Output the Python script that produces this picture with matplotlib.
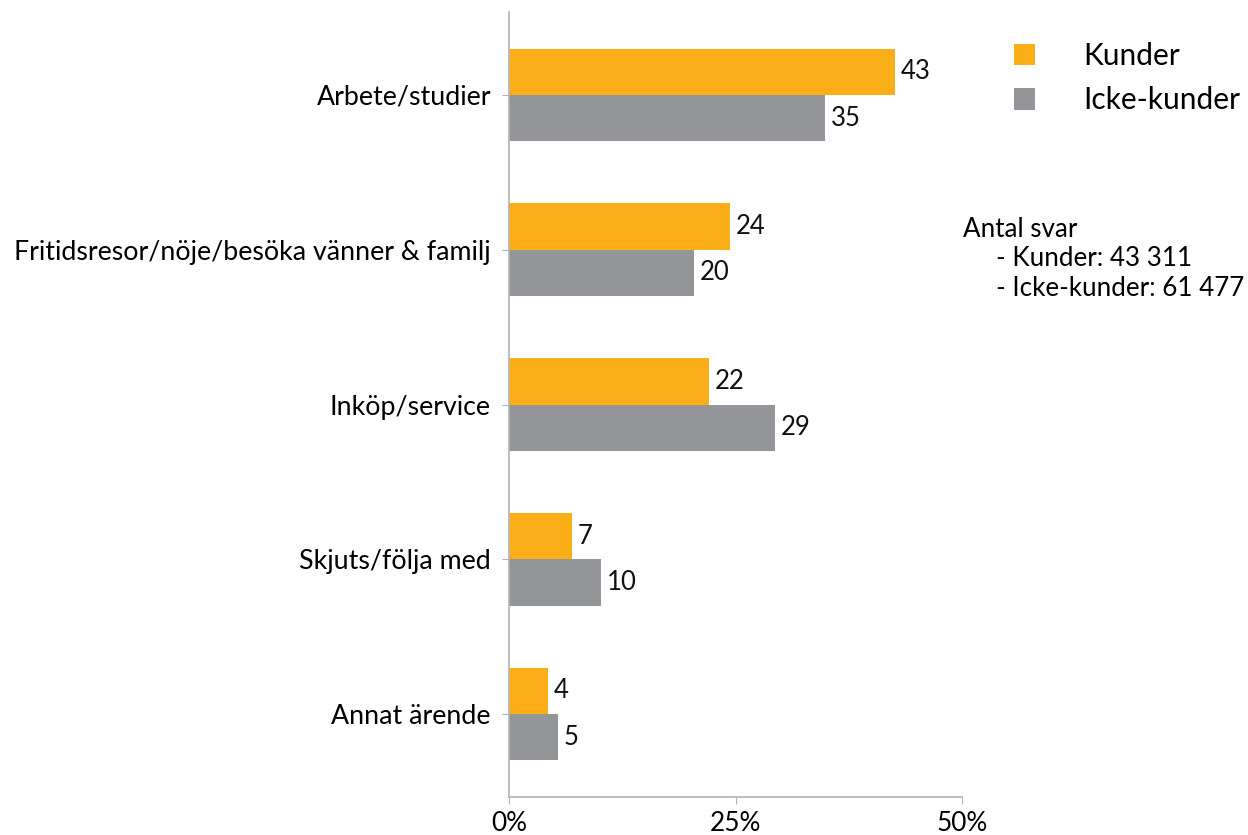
import numpy as np
import matplotlib.pyplot as plt
from matplotlib.ticker import FuncFormatter

plt.rcParams['font.family'] = ['Lato', 'DejaVu Sans']

kategorier = ['Arbete/studier', 'Fritidsresor/nöje/besöka vänner & familj',
              'Inköp/service', 'Skjuts/följa med', 'Annat ärende']
kunder = [42.6, 24.4, 22.1, 7.0, 4.3]
icke_kunder = [34.9, 20.4, 29.4, 10.2, 5.4]
serier = ['Kunder', 'Icke-kunder']

ORANGE = '#fbae17'
GRA = '#939598'
SPINE = '#b3b3b3'

fig = plt.figure(figsize=(12.48, 8.35), dpi=100)
ax = fig.add_axes([509 / 1248, 1 - 797 / 835, (962 - 509) / 1248, (797 - 12) / 835])

y = np.arange(len(kategorier))
h = 0.30
b1 = ax.barh(y - h / 2, kunder, height=h, color=ORANGE, label=serier[0])
b2 = ax.barh(y + h / 2, icke_kunder, height=h, color=GRA, label=serier[1])

for bars in (b1, b2):
    for rect in bars:
        v = rect.get_width()
        ax.text(v + 0.6, rect.get_y() + rect.get_height() / 2, f'{v:.0f}',
                va='center', ha='left', fontsize=18.5, color='#111111')

ax.set_xlim(0, 50)
ax.set_ylim(len(kategorier) - 0.464, -0.536)
ax.set_yticks(y)
ax.set_yticklabels(kategorier, fontsize=19.3)
ax.set_xticks([0, 25, 50])
ax.xaxis.set_major_formatter(FuncFormatter(lambda v, p: f'{v:.0f}%'))
ax.tick_params(axis='x', labelsize=18.8, length=5, color=SPINE, pad=5)
ax.tick_params(axis='y', length=5, color=SPINE, pad=8)

for s in ['top', 'right']:
    ax.spines[s].set_visible(False)
for s in ['left', 'bottom']:
    ax.spines[s].set_color(SPINE)
    ax.spines[s].set_linewidth(1.2)

fig.legend(handles=[b1, b2], labels=serier, loc='upper left',
           bbox_to_anchor=(987 / 1248, 1 - 15 / 835), frameon=False,
           fontsize=21.5, handlelength=0.72, handleheight=0.72,
           handletextpad=1.6, labelspacing=0.55)

fig.text(963 / 1248, 1 - 217 / 835,
         'Antal svar\n     - Kunder: 43 311\n     - Icke-kunder: 61 477',
         fontsize=18.7, va='top', ha='left', linespacing=1.22)

fig.savefig('out.png', dpi=100)
